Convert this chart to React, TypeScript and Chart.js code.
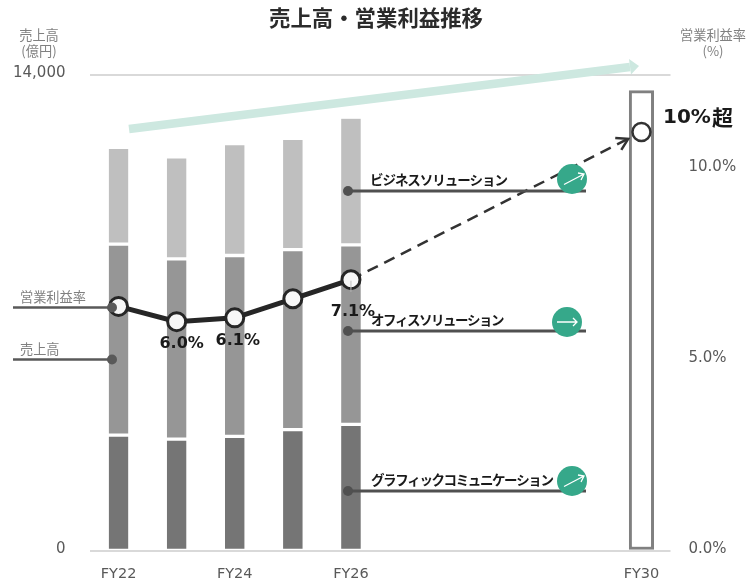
import React, { useEffect, useRef } from "react";
import { Chart, registerables } from "chart.js";

Chart.register(...registerables);

const categories = ["FY22", "", "FY24", "", "FY26", "", "", "", "", "FY30"];
const graphicSales = [3398, 3280, 3360, 3557, 3714, null, null, null, null, null];
const officeSales = [5620, 5305, 5326, 5299, 5282, null, null, null, null, null];
const businessSales = [2800, 2959, 3242, 3227, 3717, null, null, null, null, null];
const targetSales = [null, null, null, null, null, null, null, null, null, 13540];
const marginActual = [6.4, 6.0, 6.1, 6.6, 7.1, null, null, null, null, null];
const marginPlan = [null, null, null, null, 7.1, null, null, null, null, 10.97];
const salesTicks = [0, 14000];
const marginTicks = [0, 5, 10];
const segmentNames = ["ビジネスソリューション", "オフィスソリューション", "グラフィックコミュニケーション"];
const sideNames = ["営業利益率", "売上高"];

const JP = '"Noto Sans CJK JP", "Noto Sans", sans-serif';
const LATIN = '"DejaVu Sans", sans-serif';

const overlayBack = {
  id: "overlayBack",
  beforeDatasetsDraw(chart: any) {
    const c = chart.ctx;
    c.save();
    c.strokeStyle = "#cde8e0";
    c.fillStyle = "#cde8e0";
    c.lineWidth = 8.5;
    c.beginPath();
    c.moveTo(129, 129);
    c.lineTo(630, 67);
    c.stroke();
    c.beginPath();
    c.moveTo(629, 59);
    c.lineTo(639, 66);
    c.lineTo(631, 74.5);
    c.closePath();
    c.fill();
    c.restore();
  },
};

function badge(c: any, x: number, y: number, rising: boolean) {
  c.fillStyle = "#36a88a";
  c.beginPath();
  c.arc(x, y, 15, 0, Math.PI * 2);
  c.fill();
  c.strokeStyle = "#ffffff";
  c.lineWidth = 1.3;
  c.beginPath();
  if (rising) {
    c.moveTo(x - 8, y + 5.5);
    c.lineTo(x + 12, y - 5);
    c.moveTo(x + 6, y - 6);
    c.lineTo(x + 12, y - 5);
    c.lineTo(x + 9, y + 1);
  } else {
    c.moveTo(x - 10, y);
    c.lineTo(x + 10, y);
    c.moveTo(x + 6, y - 4);
    c.lineTo(x + 10, y);
    c.lineTo(x + 6, y + 4);
  }
  c.stroke();
}

const overlayFront = {
  id: "overlayFront",
  afterDatasetsDraw(chart: any) {
    const c = chart.ctx;
    const xs = chart.scales.x;
    const yr = chart.scales.yR;
    c.save();

    // arrow head of the plan line
    const x4 = xs.getPixelForValue(4);
    const y4 = yr.getPixelForValue(marginPlan[4] as number);
    const x9 = xs.getPixelForValue(9);
    const y9 = yr.getPixelForValue(marginPlan[9] as number);
    const a = Math.atan2(y9 - y4, x9 - x4);
    const tipX = x4 + Math.cos(a) * 311;
    const tipY = y4 + Math.sin(a) * 311;
    c.strokeStyle = "#333333";
    c.lineWidth = 2.5;
    c.beginPath();
    c.moveTo(tipX + Math.cos(a + 2.6) * 13, tipY + Math.sin(a + 2.6) * 13);
    c.lineTo(tipX, tipY);
    c.lineTo(tipX + Math.cos(a - 2.6) * 13, tipY + Math.sin(a - 2.6) * 13);
    c.stroke();

    // leader of the FY26 label
    c.strokeStyle = "#bdbdbd";
    c.lineWidth = 1;
    c.beginPath();
    c.moveTo(x4, y4 + 1);
    c.lineTo(x4, y4 + 12);
    c.stroke();

    // callouts
    const leaders = [
      { x0: 348, x1: 586, y: 191, tx: 370, ty: 180, bx: 572, by: 179, up: true, sp: "-1.05px" },
      { x0: 348, x1: 586, y: 331, tx: 371, ty: 320, bx: 567, by: 322, up: false, sp: "-1.5px" },
      { x0: 348, x1: 586, y: 491, tx: 371, ty: 480, bx: 572, by: 481, up: true, sp: "-1.4px" },
    ];
    leaders.forEach((l, i) => {
      c.strokeStyle = "#505050";
      c.fillStyle = "#505050";
      c.lineWidth = 2.8;
      c.beginPath();
      c.moveTo(l.x0, l.y);
      c.lineTo(l.x1, l.y);
      c.stroke();
      c.beginPath();
      c.arc(l.x0, l.y, 5, 0, Math.PI * 2);
      c.fill();
      c.fillStyle = "#1a1a1a";
      c.font = `bold 13.5px ${JP}`;
      c.letterSpacing = l.sp;
      c.textAlign = "left";
      c.textBaseline = "middle";
      c.fillText(segmentNames[i], l.tx, l.ty);
      c.letterSpacing = "0px";
      badge(c, l.bx, l.by, l.up);
    });

    // left side legend
    [
      { y: 307.5, ty: 297 },
      { y: 359.5, ty: 349 },
    ].forEach((l, i) => {
      c.strokeStyle = "#595959";
      c.fillStyle = "#595959";
      c.lineWidth = 2.4;
      c.beginPath();
      c.moveTo(13, l.y);
      c.lineTo(112, l.y);
      c.stroke();
      c.beginPath();
      c.arc(112, l.y, 5, 0, Math.PI * 2);
      c.fill();
      c.fillStyle = "#808080";
      c.font = `13.2px ${JP}`;
      c.textAlign = "left";
      c.textBaseline = "middle";
      c.fillText(sideNames[i], 20, l.ty);
    });

    // axis captions
    c.fillStyle = "#808080";
    c.font = `13.2px ${JP}`;
    c.textAlign = "center";
    c.fillText("売上高", 39, 35);
    c.fillText("(億円)", 39, 51);
    c.fillText("営業利益率", 713, 35);
    c.fillText("(%)", 713, 51);

    // value labels
    c.fillStyle = "#1a1a1a";
    c.font = `bold 16px ${LATIN}`;
    c.textAlign = "center";
    c.textBaseline = "middle";
    c.fillText("6.0%", xs.getPixelForValue(1) + 5, yr.getPixelForValue(marginActual[1] as number) + 22);
    c.fillText("6.1%", xs.getPixelForValue(2) + 3, yr.getPixelForValue(marginActual[2] as number) + 23);
    c.fillText("7.1%", x4 + 2, y4 + 32);
    c.font = `bold 20px ${LATIN}`;
    c.textAlign = "left";
    c.fillText("10%", 663, 118);
    c.font = `bold 21px ${JP}`;
    c.fillText("超", 712, 117);
    c.restore();
  },
};

export default function App() {
  const ref = useRef<HTMLCanvasElement>(null);
  useEffect(() => {
    const chart = new Chart(ref.current as HTMLCanvasElement, {
      type: "bar",
      data: {
        labels: categories,
        datasets: [
          {
            label: "グラフィックコミュニケーション",
            data: graphicSales,
            backgroundColor: "#757575",
            borderColor: "#ffffff",
            borderWidth: { top: 2, bottom: 1, left: 0, right: 0 },
            borderSkipped: false,
            barThickness: 19.5,
            yAxisID: "y",
            order: 5,
          },
          {
            label: "オフィスソリューション",
            data: officeSales,
            backgroundColor: "#969696",
            borderColor: "#ffffff",
            borderWidth: { top: 2, bottom: 2, left: 0, right: 0 },
            borderSkipped: false,
            barThickness: 19.5,
            yAxisID: "y",
            order: 5,
          },
          {
            label: "ビジネスソリューション",
            data: businessSales,
            backgroundColor: "#bfbfbf",
            borderColor: "#ffffff",
            borderWidth: { top: 0, bottom: 2, left: 0, right: 0 },
            borderSkipped: false,
            barThickness: 19.5,
            yAxisID: "y",
            order: 5,
          },
          {
            label: "FY30",
            data: targetSales,
            backgroundColor: "#ffffff",
            borderColor: "#808080",
            borderWidth: 3,
            borderSkipped: false,
            barThickness: 24.5,
            yAxisID: "y",
            order: 4,
          },
          {
            type: "line",
            label: "営業利益率(計画)",
            data: marginPlan,
            borderColor: "#333333",
            borderWidth: 2.5,
            borderDash: [11.5, 7.16],
            spanGaps: true,
            pointRadius: 0,
            yAxisID: "yR",
            order: 3,
          },
          {
            type: "line",
            label: "営業利益率(FY30)",
            data: marginPlan.map((v, i) => (i === 9 ? v : null)),
            borderColor: "#333333",
            backgroundColor: "#ffffff",
            pointRadius: 9,
            pointBorderWidth: 2.5,
            pointBorderColor: "#333333",
            pointBackgroundColor: "#ffffff",
            yAxisID: "yR",
            order: 2,
          },
          {
            type: "line",
            label: "営業利益率",
            data: marginActual,
            borderColor: "#262626",
            borderWidth: 5,
            tension: 0,
            pointRadius: 9,
            pointBorderWidth: 3,
            pointBorderColor: "#262626",
            pointBackgroundColor: "#f7f7f7",
            yAxisID: "yR",
            order: 1,
          },
        ] as any,
      },
      options: {
        responsive: false,
        animation: false,
        layout: { padding: { left: 4, right: 0, top: 5, bottom: 0 } },
        plugins: {
          legend: { display: false },
          tooltip: { enabled: false },
          title: {
            display: true,
            text: "売上高・営業利益推移",
            color: "#2b2b2b",
            font: { family: JP, size: 21.4, weight: "bold", lineHeight: 1.2 },
            padding: { top: 0, bottom: 44.3 },
          },
        },
        scales: {
          x: {
            stacked: true,
            grid: { display: false },
            border: { display: false },
            afterFit: (s: any) => {
              s.height = 29.5;
            },
            ticks: {
              autoSkip: false,
              maxRotation: 0,
              color: "#595959",
              padding: 7,
              font: { family: LATIN, size: 14.5 },
              callback: (_v: any, i: number) => categories[i],
            },
          },
          y: {
            stacked: true,
            position: "left",
            min: 0,
            max: 14000,
            grid: { color: "#d9d9d9", lineWidth: 2, drawTicks: true, tickLength: 24, tickColor: "transparent" },
            border: { display: false },
            afterFit: (s: any) => {
              s.width = 85.5;
            },
            afterBuildTicks: (s: any) => {
              s.ticks = salesTicks.map((value) => ({ value }));
            },
            ticks: {
              color: "#595959",
              padding: 0,
              font: { family: LATIN, size: 15, lineHeight: "3px" },
              callback: (v: any) => [Number(v).toLocaleString("en-US"), ""],
            },
          },
          yR: {
            position: "right",
            min: 0,
            max: 12.467,
            grid: { display: false, drawTicks: true, tickLength: 18 },
            border: { display: false },
            afterFit: (s: any) => {
              s.width = 77.5;
            },
            afterBuildTicks: (s: any) => {
              s.ticks = marginTicks.map((value) => ({ value }));
            },
            ticks: {
              color: "#595959",
              padding: 0,
              font: { family: LATIN, size: 15, lineHeight: "3px" },
              callback: (v: any) => [Number(v).toFixed(1) + "%", ""],
            },
          },
        },
      } as any,
      plugins: [overlayBack, overlayFront],
    });
    return () => chart.destroy();
  }, []);
  return (
    <div style={{ position: "fixed", left: 0, top: 0, width: 748, height: 580, background: "#fff", overflow: "hidden" }}>
      <canvas ref={ref} width={748} height={580} style={{ display: "block" }} />
    </div>
  );
}
